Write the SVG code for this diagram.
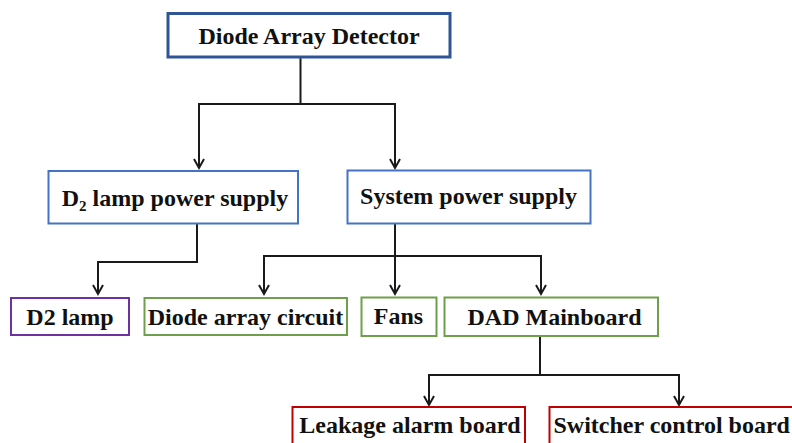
<svg xmlns="http://www.w3.org/2000/svg" width="792" height="443" viewBox="0 0 792 443">
  <style>
    .box { fill: #ffffff; stroke-width: 2; }
    .top { stroke: #2F5597; stroke-width: 3; }
    .blue { stroke: #4472C4; }
    .purple { stroke: #7030A0; }
    .green { stroke: #6E9F4A; }
    .red { stroke: #C00000; }
    .lbl { font-family: "Liberation Serif", "Times New Roman", serif; font-weight: bold; font-size: 24px; fill: #111111; text-anchor: middle; }
    .conn { fill: none; stroke: #1a1a1a; stroke-width: 2; marker-end: url(#arr); }
  </style>
  <defs>
    <marker id="arr" markerUnits="userSpaceOnUse" viewBox="-11 -7 13 14" refX="0" refY="0" markerWidth="13" markerHeight="14" orient="auto" overflow="visible">
      <path d="M-9,-5 L0,0 L-9,5" fill="none" stroke="#1a1a1a" stroke-width="2"/>
    </marker>
  </defs>
  <rect width="792" height="443" fill="#ffffff"/>

  <g id="connectors">
    <path class="conn" d="M300.5,57 V104 H199 V168"/>
    <path class="conn" d="M300.5,104 H395 V168"/>
    <path class="conn" d="M197,224 V262 H98 V294"/>
    <path class="conn" d="M395,224 V294"/>
    <path class="conn" d="M395,256 H264 V294"/>
    <path class="conn" d="M395,256 H541 V294"/>
    <path class="conn" d="M540,336 V375 H429 V405"/>
    <path class="conn" d="M540,375 H679 V405"/>
  </g>

  <g id="node-dad">
    <rect class="box top" x="168" y="13.5" width="282" height="43.5"/>
    <text class="lbl" x="309" y="43.5">Diode Array Detector</text>
  </g>

  <g id="node-d2ps">
    <rect class="box blue" x="48.5" y="171" width="249.5" height="52.5"/>
    <text class="lbl" x="175" y="205.5">D<tspan font-size="15" dy="5">2</tspan><tspan dy="-5"> lamp power supply</tspan></text>
  </g>

  <g id="node-sysps">
    <rect class="box blue" x="347.5" y="170.5" width="243" height="53"/>
    <text class="lbl" x="468.5" y="203.5">System power supply</text>
  </g>

  <g id="node-d2lamp">
    <rect class="box purple" x="11" y="298" width="118" height="37"/>
    <text class="lbl" x="70" y="325">D2 lamp</text>
  </g>

  <g id="node-diode-circuit">
    <rect class="box green" x="144.5" y="298" width="202.5" height="37"/>
    <text class="lbl" x="245.5" y="325">Diode array circuit</text>
  </g>

  <g id="node-fans">
    <rect class="box green" x="361.5" y="297.5" width="75" height="38.5"/>
    <text class="lbl" x="398.5" y="324">Fans</text>
  </g>

  <g id="node-mainboard">
    <rect class="box green" x="444.5" y="297.5" width="213.5" height="38.5"/>
    <text class="lbl" x="554.5" y="325">DAD Mainboard</text>
  </g>

  <g id="node-leakage">
    <rect class="box red" x="292.5" y="407" width="232.5" height="45"/>
    <text class="lbl" x="410" y="433">Leakage alarm board</text>
  </g>

  <g id="node-switcher">
    <rect class="box red" x="549.5" y="407" width="260" height="45"/>
    <text class="lbl" x="553.5" y="433" style="text-anchor:start">Switcher control board</text>
  </g>
</svg>
